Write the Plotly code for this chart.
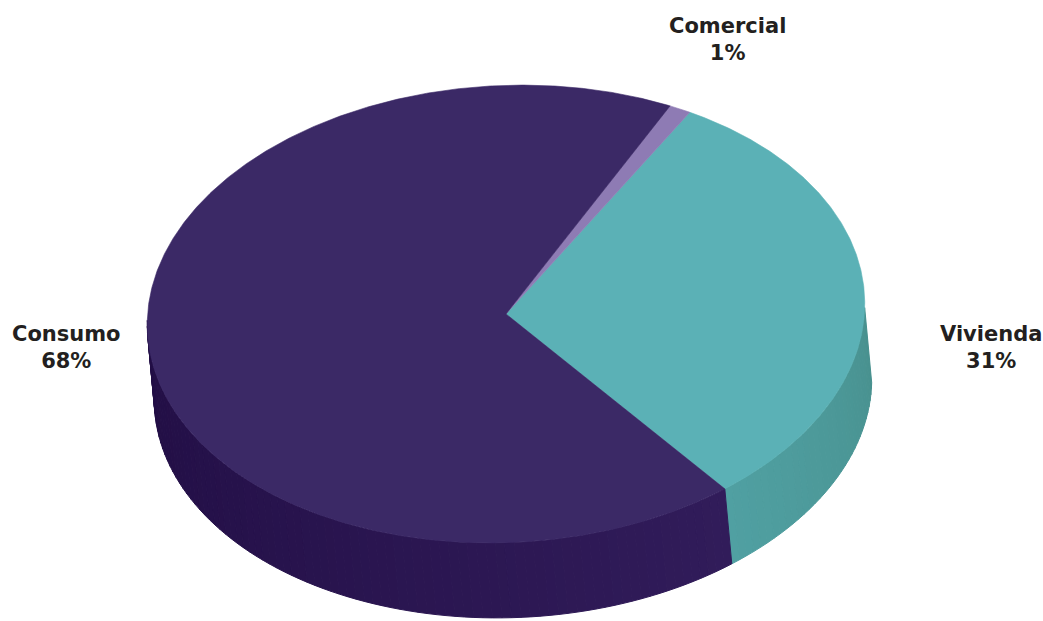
import numpy as np
import plotly.graph_objects as go

# Loan portfolio split by product
labels = ["Consumo", "Vivienda", "Comercial"]
values = [68, 31, 1]
pct_text = ["68%", "31%", "1%"]

top_colors = ["#3b2966", "#5bb1b6", "#8e7bb4"]
side_colors_from = ["#210d44", "#50a0a2", "#7a68a3"]
side_colors_to = ["#311c5a", "#48918f", "#6d5b96"]

# Slices are laid out counterclockwise from this angle (degrees)
start_deg = -54.2
ccw_order = ["Vivienda", "Comercial", "Consumo"]

# Pie geometry in page pixels (tilted ellipse seen from above)
CX, CY, RX, RY = 506.0, 314.0, 359.0, 228.5
TILT = np.radians(2.8)
DEPTH, SHIFT = 75.0, 7.0
W, H = 1043, 621


def hex_rgb(h):
    h = h.lstrip("#")
    return np.array([int(h[i:i + 2], 16) for i in (0, 2, 4)], dtype=float)


def mix(c0, c1, t):
    c = hex_rgb(c0) * (1 - t) + hex_rgb(c1) * t
    return "rgb(%d,%d,%d)" % tuple(np.round(c).astype(int))


def ellipse_xy(theta_deg, cx, cy):
    t = np.radians(theta_deg)
    px, py = RX * np.cos(t), -RY * np.sin(t)
    s, c = np.sin(TILT), np.cos(TILT)
    return cx + px * c + py * s, cy - px * s + py * c


def top_xy(theta_deg):
    return ellipse_xy(theta_deg, CX, CY)


def bottom_xy(theta_deg):
    return ellipse_xy(theta_deg, CX + SHIFT, CY + DEPTH)


total = float(sum(values))
spans = {}
a = start_deg
for name in ccw_order:
    v = values[labels.index(name)]
    spans[name] = (a, a + 360.0 * v / total)
    a += 360.0 * v / total

fig = go.Figure()

# Side walls: only the front half of the cylinder is visible
vis_lo = 180.0 - np.degrees(TILT)
for name in ccw_order:
    i = labels.index(name)
    a0, a1 = spans[name]
    for k in (-1, 0, 1):
        lo = max(a0, vis_lo + 360 * k)
        hi = min(a1, vis_lo + 180 + 360 * k)
        if hi <= lo:
            continue
        n = max(2, int((hi - lo) / 1.5))
        edges = np.linspace(lo, hi, n + 1)
        for j in range(n):
            th = np.linspace(edges[j], edges[j + 1], 6)
            tx, ty = top_xy(th)
            bx, by = bottom_xy(th[::-1])
            xs = np.concatenate([tx, bx, tx[:1]])
            ys = np.concatenate([ty, by, ty[:1]])
            col = mix(side_colors_from[i], side_colors_to[i], (j + 0.5) / n)
            fig.add_trace(go.Scatter(
                x=xs, y=ys, mode="lines", fill="toself",
                fillcolor=col, line=dict(color=col, width=1),
                hoverinfo="skip", showlegend=False))

# Top faces
for name in ccw_order:
    i = labels.index(name)
    a0, a1 = spans[name]
    th = np.linspace(a0, a1, max(8, int((a1 - a0) * 3)))
    ax, ay = top_xy(th)
    xs = np.concatenate([[CX], ax, [CX]])
    ys = np.concatenate([[CY], ay, [CY]])
    fig.add_trace(go.Scatter(
        x=xs, y=ys, mode="lines", fill="toself",
        fillcolor=top_colors[i], line=dict(color=top_colors[i], width=0.6),
        hoverinfo="skip", showlegend=False))

# Category labels: name over percentage
label_pos = {"Consumo": (66, 347), "Vivienda": (991, 347), "Comercial": (727, 39)}
font = dict(family="DejaVu Sans", size=21, color="#231f20", weight="bold")
for name, (lx, ly) in label_pos.items():
    i = labels.index(name)
    fig.add_annotation(x=lx, y=ly, text=name + "<br>" + pct_text[i],
                       showarrow=False, xanchor="center", yanchor="middle",
                       align="center", font=font)

fig.update_layout(
    width=W, height=H,
    margin=dict(l=0, r=0, t=0, b=0),
    paper_bgcolor="white", plot_bgcolor="white",
    xaxis=dict(range=[0, W], visible=False, fixedrange=True),
    yaxis=dict(range=[H, 0], visible=False, fixedrange=True),
)

fig.write_html("out.html")
